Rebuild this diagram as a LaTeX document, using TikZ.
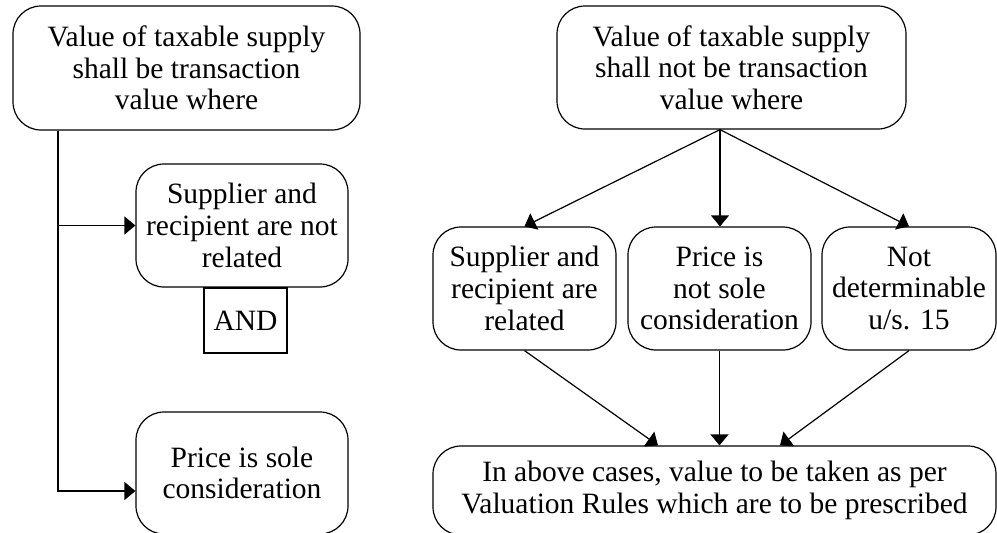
\documentclass[tikz,border=0pt]{standalone}
\usepackage{fontspec}
\setmainfont{Liberation Serif}
\usetikzlibrary{arrows.meta}
\begin{document}
\begin{tikzpicture}[x=1pt,y=-1pt,
  txt/.style={font=\fontsize{29.5}{31.7}\selectfont},
  box/.style={draw, line width=1.2pt, rounded corners=28pt, align=center, inner sep=0pt, txt},
  sqbox/.style={draw, line width=1.2pt, align=center, inner sep=0pt, txt},
  conn/.style={line width=1.2pt, -{Triangle[length=11pt,width=18pt]}},
  plain/.style={line width=1.2pt}]
\useasboundingbox (0,0) rectangle (997,533);
% left panel
\node[box, minimum width=347pt, minimum height=124pt] (T1) at (186.5,68) {Value of taxable supply\\shall be transaction\\value where};
\node[box, minimum width=212pt, minimum height=123pt] (L2) at (242,225.5) {Supplier and\\recipient are not\\related};
\node[sqbox, minimum width=83pt, minimum height=65pt] (AND) at (245.5,320.5) {AND};
\node[box, minimum width=212pt, minimum height=122pt] (L3) at (242,473) {Price is sole\\consideration};
\coordinate (j) at (58,491);
\draw[conn] (T1.south -| j) |- (L2.west);
\draw[conn] (T1.south -| j) -- (j) -- (j -| L3.west);
% right panel
\node[box, minimum width=349pt, minimum height=123pt] (R1) at (731.5,67.5) {Value of taxable supply\\shall not be transaction\\value where};
\node[box, minimum width=183pt, minimum height=123pt] (A) at (524.5,288.5) {Supplier and\\recipient are\\related};
\node[box, minimum width=183pt, minimum height=123pt] (B) at (719.5,288.5) {Price is\\not sole\\consideration};
\node[box, minimum width=174pt, minimum height=123pt] (C) at (909,288.5) {Not\\determinable\\u/s. 15};
\node[box, minimum width=563pt, minimum height=89pt] (D) at (714.5,490.5) {In above cases, value to be taken as per\\Valuation Rules which are to be prescribed};
\coordinate (s) at ([xshift=-11.5pt]R1.south);
\draw[conn] (s) -- (A.north);
\draw[conn] (s) -- (s |- B.north);
\draw[conn] (s) -- (C.north);
\draw[conn] (A.south) -- ([xshift=-56.5pt]D.north);
\draw[conn] (B.south) -- (B.south |- D.north);
\draw[conn] (C.south) -- ([xshift=65.5pt]D.north);
\end{tikzpicture}
\end{document}
